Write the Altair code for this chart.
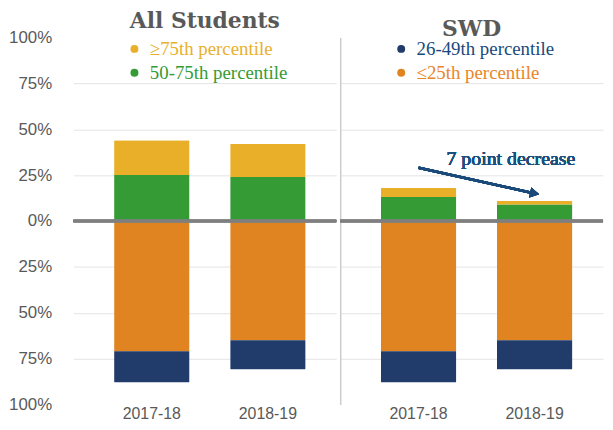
import altair as alt
import pandas as pd

# ---- data ----
groups = ["All Students", "All Students", "SWD", "SWD"]
years = ["2017-18", "2018-19", "2017-18", "2018-19"]
pct_ge75 = [19, 18, 5, 2]        # >=75th percentile (above zero)
pct_50_75 = [25, 24, 13, 9]      # 50-75th percentile (above zero)
pct_le25 = [71, 65, 71, 65]      # <=25th percentile (below zero)
pct_26_49 = [17, 16, 17, 16]     # 26-49th percentile (below zero)

series = ["≥75th percentile", "50-75th percentile", "26-49th percentile", "≤25th percentile"]
colors = ["#E9AF29", "#359B35", "#213B6A", "#E08421"]
label_colors = ["#E9B02C", "#359B35", "#1A4A7C", "#E8862A"]
axis_ticks = [-100, -75, -50, -25, 0, 25, 50, 75, 100]

# annotation (percent values on the y scale)
ann_text = "7 point decrease"
ann_start, ann_end, ann_label_y = 29, 15, 34

rows = []
for g, y, a, b, c, d in zip(groups, years, pct_ge75, pct_50_75, pct_le25, pct_26_49):
    rows.append(dict(group=g, year=y, series=series[1], value=b, order=0))
    rows.append(dict(group=g, year=y, series=series[0], value=a, order=1))
    rows.append(dict(group=g, year=y, series=series[3], value=-c, order=0))
    rows.append(dict(group=g, year=y, series=series[2], value=-d, order=1))
df = pd.DataFrame(rows)

label_expr = " : ".join(
    f"datum.label == '{s}' ? '{c}'" for s, c in zip(series[:-1], label_colors[:-1])
) + f" : '{label_colors[-1]}'"

grid_cond = {
    "condition": {"test": "abs(datum.value) >= 100 || datum.value == 0", "value": "transparent"},
    "value": "#E4E4E4",
}

TITLE_FONT = "DejaVu Serif"
SERIF = "Liberation Serif"
SANS = "Liberation Sans"
GREY = "#595959"
W, H = 265, 370

xscale = alt.Scale(paddingInner=0.35, paddingOuter=0.307, align=0.57)
yscale = alt.Scale(domain=[-100, 100], nice=False)


def panel(gname, legend_values, left):
    base = alt.Chart(df[df.group == gname])
    if left:
        yaxis = alt.Axis(values=axis_ticks, labelExpr="abs(datum.value) + '%'", title=None,
                         domain=False, ticks=False, labelFont=SANS, labelFontSize=17,
                         labelColor=GREY, labelPadding=22, grid=True, gridColor=grid_cond)
    else:
        yaxis = alt.Axis(values=axis_ticks, labels=False, title=None, domain=True,
                         domainColor="#CCCCCC", domainWidth=1.5, ticks=False,
                         grid=True, gridColor=grid_cond)
    bars = base.mark_bar(cornerRadius=1).encode(
        x=alt.X("year:N", scale=xscale, sort=years[:2],
                axis=alt.Axis(title=None, labelAngle=0, domain=False, ticks=False,
                              labelFont=SANS, labelFontSize=16, labelColor=GREY,
                              labelPadding=1)),
        y=alt.Y("value:Q", scale=yscale, axis=yaxis, stack="zero"),
        color=alt.Color("series:N",
                        scale=alt.Scale(domain=series, range=colors),
                        legend=alt.Legend(values=legend_values, orient="none",
                                          legendX=52, legendY=2, title=None,
                                          symbolType="circle", symbolSize=64,
                                          labelFont=SERIF, labelFontSize=19,
                                          labelFontWeight="normal",
                                          labelColor=alt.ExprRef(label_expr),
                                          rowPadding=4, labelOffset=6, padding=0)),
        order=alt.Order("order:Q"),
    )
    zero = base.mark_rule(color="#7F7F7F", strokeWidth=2.5).encode(y=alt.datum(0))
    layers = [bars, zero]
    if not left:
        arrow = base.mark_rule(color="#1A4A7A", strokeWidth=2.5).encode(
            x=alt.datum(years[0]), x2=alt.datum(years[1]),
            y=alt.datum(ann_start), y2=alt.datum(ann_end))
        head = base.mark_point(shape="triangle-right", filled=True, opacity=1,
                               color="#1A4A7A", size=110, angle=12).encode(
            x=alt.datum(years[1]), y=alt.datum(ann_end))
        txt = base.mark_text(font=SERIF, fontSize=20, fontWeight="normal",
                             color="#1B4F7C", dx=-24).encode(
            x=alt.datum(years[1]), y=alt.datum(ann_label_y), text=alt.value(ann_text))
        layers += [arrow, head, txt]
    return alt.layer(*layers).properties(
        width=W, height=H,
        title=alt.TitleParams(gname, font=TITLE_FONT, fontWeight="bold", fontSize=22,
                              color=GREY, anchor="middle", offset=-2, dy=2),
    )


left = panel("All Students", series[:2], True)
right = panel("SWD", series[2:], False)

chart = alt.hconcat(left, right, spacing=0).resolve_scale(
    color="independent"
).properties(padding=0).configure_view(stroke=None)

chart.save("out.html", embed_options={"renderer": "svg", "actions": False})
